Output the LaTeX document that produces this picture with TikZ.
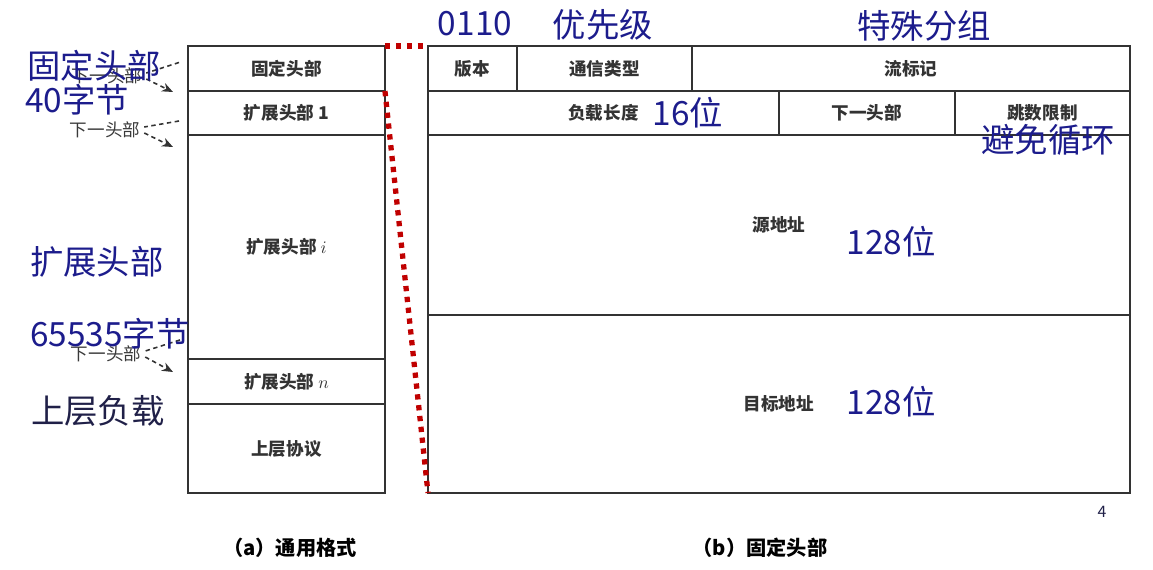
\documentclass[tikz,border=0pt]{standalone}
\usepackage{fontspec}
\setmainfont{Noto Sans CJK SC}
\usetikzlibrary{arrows.meta,positioning,calc}
\definecolor{hdink}{HTML}{333333}
\definecolor{hdnote}{HTML}{1C1C8C}
\definecolor{hddark}{HTML}{202048}
\definecolor{hdred}{HTML}{C00000}
\definecolor{hdgray}{HTML}{3A3A3A}
\tikzset{
  cell/.style={draw=hdink,line width=0.8pt,anchor=north west,inner sep=0pt,outer sep=0pt,
               font=\fontsize{10}{12}\selectfont\bfseries,text=hdink},
  note/.style={font=\fontsize{19}{22}\selectfont,text=hdnote,inner sep=0pt},
  nxt/.style={font=\fontsize{10}{12}\selectfont,text=hdgray,inner sep=1pt},
  nxtln/.style={line width=0.9pt,dash pattern=on 2.5pt off 2pt,draw=hdink},
  nxtarr/.style={-{Stealth[length=2.2mm,width=1.8mm]},line width=0.9pt,dash pattern=on 2.5pt off 2pt,draw=hdink},
  redln/.style={draw=hdred,line width=3pt,dash pattern=on 3pt off 3.2pt},
  capt/.style={font=\fontsize{11.5}{13}\selectfont\bfseries,text=black},
}

\begin{document}
\begin{tikzpicture}[x=0.02cm,y=-0.02cm]
  \useasboundingbox (0,0) rectangle (1153,569);

  % ---------- (a) general format ----------
  \node[cell,minimum width=3.94cm,minimum height=0.9cm]  (fix)  at (188,46)  {固定头部};
  \node[cell,minimum width=3.94cm,minimum height=0.88cm] (ext1) at (188,91)  {扩展头部 1};
  \node[cell,minimum width=3.94cm,minimum height=4.48cm] (exti) at (188,135) {扩展头部 $i$};
  \node[cell,minimum width=3.94cm,minimum height=0.9cm]  (extn) at (188,359) {扩展头部 $n$};
  \node[cell,minimum width=3.94cm,minimum height=1.78cm] (upl)  at (188,404) {上层协议};

  % ---------- (b) fixed header ----------
  \node[cell,minimum width=1.78cm,minimum height=0.9cm]  (ver)  at (428,46)  {版本};
  \node[cell,minimum width=3.5cm,minimum height=0.9cm]   (cls)  at (517,46)  {通信类型};
  \node[cell,minimum width=8.76cm,minimum height=0.9cm]  (flow) at (692,46)  {流标记};
  \node[cell,minimum width=7.02cm,minimum height=0.88cm] (plen) at (428,91)  {负载长度};
  \node[cell,minimum width=3.52cm,minimum height=0.88cm] (nxh)  at (779,91)  {下一头部};
  \node[cell,minimum width=3.5cm,minimum height=0.88cm]  (hop)  at (955,91)  {跳数限制};
  \node[cell,minimum width=14.04cm,minimum height=3.6cm] (src)  at (428,135) {源地址};
  \node[cell,minimum width=14.04cm,minimum height=3.56cm](dst)  at (428,315) {目标地址};

  % ---------- zoom lines ----------
  \draw[redln] (fix.north east) -- (ver.north west);
  \draw[redln] (ext1.north east) -- (dst.south west);

  % ---------- next-header chain ----------
  \node[nxt] (nh1) at (107,76)  {下一头部};
  \node[nxt] (nh2) at (105,130) {下一头部};
  \node[nxt] (nh3) at (106,354) {下一头部};
  \draw[nxtln]  ($(fix.west)+(-9,-6)$) -- ($(nh1.east)+(2,-3)$);
  \draw[nxtarr] ($(nh1.east)+(2,3)$) -- ($(ext1.north west)+(-15,1)$);
  \draw[nxtln]  ($(ext1.south west)+(-9,-14)$) -- ($(nh2.east)+(2,-3)$);
  \draw[nxtarr] ($(nh2.east)+(2,3)$) -- ($(exti.north west)+(-15,12)$);
  \draw[nxtln]  ($(exti.south west)+(-8,-19)$) -- ($(nh3.east)+(2,-3)$);
  \draw[nxtarr] ($(nh3.east)+(2,3)$) -- ($(extn.north west)+(-15,13)$);

  % ---------- notes ----------
  \node[note] (fixlen)   at (94,66)   {固定头部};
  \node[note] (fixsz)    at (77,100)  {40字节};
  \node[note] (extlbl)   at (97,262)  {扩展头部};
  \node[note] (extsz)    at (110,334) {65535字节};
  \node[note,text=hddark] (uplbl) at (98,411) {上层负载};
  \node[note] (verval)   at (475,24)  {0110};
  \node[note] (prio)     at (603,25)  {优先级};
  \node[note] (spec)     at (924,26)  {特殊分组};
  \node[note] (plenbits) at (688,113) {16位};
  \node[note] (hopnote)  at (1048,140) {避免循环};
  \node[note] (srcbits)  at (891,242) {128位};
  \node[note] (dstbits)  at (891,402) {128位};
  \node[font=\fontsize{9}{10}\selectfont,text=hddark] (pgno) at (1102,512) {4};

  % ---------- captions ----------
  \node[capt] (capa) at (290,548) {（a）通用格式};
  \node[capt] (capb) at (760,548) {（b）固定头部};
\end{tikzpicture}
\end{document}
